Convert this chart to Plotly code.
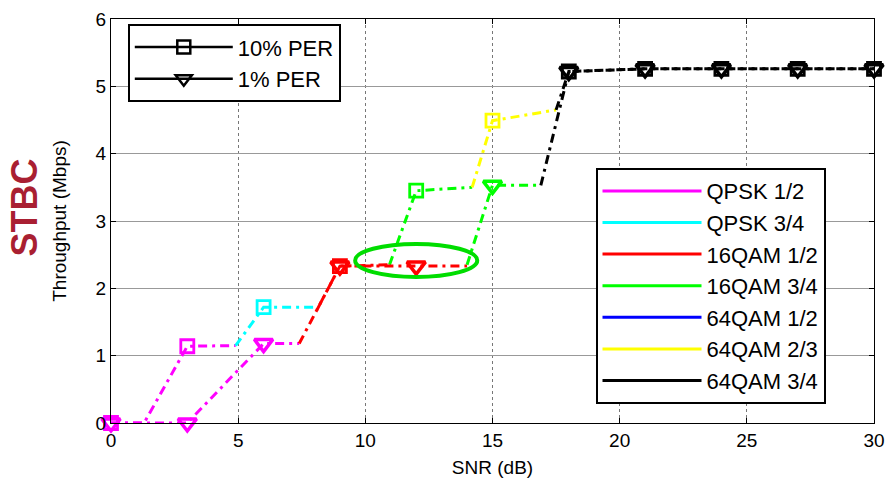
import plotly.graph_objects as go

# ---------------- data ----------------
mods = ['QPSK 1/2', 'QPSK 3/4', '16QAM 1/2', '16QAM 3/4', '64QAM 1/2', '64QAM 2/3', '64QAM 3/4']
mod_colors = ['#ff00ff', '#00ffff', '#ff0000', '#00ff00', '#0000ff', '#ffff00', '#000000']

# marker points (every 3 dB)
snr_marks = [0, 3, 6, 9, 12, 15, 18, 21, 24, 27, 30]
thr_10 = [0, 1.14, 1.72, 2.33, 3.45, 4.49, 5.22, 5.26, 5.26, 5.26, 5.26]
thr_1 = [0, 0, 1.18, 2.33, 2.33, 3.53, 5.22, 5.26, 5.26, 5.26, 5.26]
mod_10 = ['QPSK 1/2', 'QPSK 1/2', 'QPSK 3/4', '16QAM 1/2', '16QAM 3/4', '64QAM 2/3',
          '64QAM 3/4', '64QAM 3/4', '64QAM 3/4', '64QAM 3/4', '64QAM 3/4']
mod_1 = ['QPSK 1/2', 'QPSK 1/2', 'QPSK 1/2', '16QAM 1/2', '16QAM 1/2', '16QAM 3/4',
         '64QAM 3/4', '64QAM 3/4', '64QAM 3/4', '64QAM 3/4', '64QAM 3/4']

# line pieces per modulation (10% PER)
seg10_qpsk12_x = [0, 1.3, 3, 4.9]
seg10_qpsk12_y = [0, 0, 1.14, 1.15]
seg10_qpsk34_x = [4.9, 6, 8.1]
seg10_qpsk34_y = [1.15, 1.72, 1.72]
seg10_16q12_x = [8.1, 9, 10.95]
seg10_16q12_y = [1.68, 2.33, 2.35]
seg10_16q34_x = [10.95, 12, 14.2]
seg10_16q34_y = [2.35, 3.45, 3.50]
seg10_64q23_x = [14.2, 15, 17.5]
seg10_64q23_y = [3.50, 4.49, 4.65]
seg10_64q34_x = [17.5, 18, 21, 24, 27, 30]
seg10_64q34_y = [4.65, 5.22, 5.26, 5.26, 5.26, 5.26]

# line pieces per modulation (1% PER)
seg1_qpsk12_x = [0, 3, 6, 7.4]
seg1_qpsk12_y = [0, 0, 1.18, 1.18]
seg1_16q12_x = [7.4, 9, 12, 14.0]
seg1_16q12_y = [1.18, 2.33, 2.33, 2.33]
seg1_16q34_x = [14.0, 15, 16.9]
seg1_16q34_y = [2.35, 3.53, 3.53]
seg1_64q34_x = [16.9, 18, 21, 24, 27, 30]
seg1_64q34_y = [3.53, 5.22, 5.26, 5.26, 5.26, 5.26]

segments = [
    ('QPSK 1/2', seg10_qpsk12_x, seg10_qpsk12_y),
    ('QPSK 3/4', seg10_qpsk34_x, seg10_qpsk34_y),
    ('16QAM 1/2', seg10_16q12_x, seg10_16q12_y),
    ('16QAM 3/4', seg10_16q34_x, seg10_16q34_y),
    ('64QAM 2/3', seg10_64q23_x, seg10_64q23_y),
    ('64QAM 3/4', seg10_64q34_x, seg10_64q34_y),
    ('QPSK 1/2', seg1_qpsk12_x, seg1_qpsk12_y),
    ('16QAM 1/2', seg1_16q12_x, seg1_16q12_y),
    ('16QAM 3/4', seg1_16q34_x, seg1_16q34_y),
    ('64QAM 3/4', seg1_64q34_x, seg1_64q34_y),
]

# highlighted region (ellipse)
ell_x = [9.6, 14.4]
ell_y = [2.17, 2.66]

color_of = dict(zip(mods, mod_colors))
FONT = 'Liberation Sans, Arial, sans-serif'
DASH = '9px,5px,3px,5px'

fig = go.Figure()

for name, xs, ys in segments:
    fig.add_trace(go.Scatter(x=xs, y=ys, mode='lines',
                             line=dict(color=color_of[name], width=3, dash=DASH),
                             showlegend=False, hoverinfo='skip'))

fig.add_trace(go.Scatter(x=snr_marks, y=thr_10, mode='markers', showlegend=False,
                         cliponaxis=False,
                         marker=dict(symbol='square-open', size=13,
                                     color=[color_of[m] for m in mod_10],
                                     line=dict(width=2.8))))
fig.add_trace(go.Scatter(x=snr_marks, y=thr_1, mode='markers', showlegend=False,
                         cliponaxis=False,
                         marker=dict(symbol='triangle-down-open', size=16,
                                     color=[color_of[m] for m in mod_1],
                                     line=dict(width=3.5))))

# legend 1: PER levels
fig.add_trace(go.Scatter(x=[None], y=[None], mode='lines+markers', name='10% PER',
                         line=dict(color='black', width=2.5),
                         marker=dict(symbol='square-open', size=13, color='black', line=dict(width=2.5)),
                         legend='legend'))
fig.add_trace(go.Scatter(x=[None], y=[None], mode='lines+markers', name='1% PER',
                         line=dict(color='black', width=2.5),
                         marker=dict(symbol='triangle-down-open', size=14, color='black', line=dict(width=2.5)),
                         legend='legend'))

# legend 2: modulations
for m, c in zip(mods, mod_colors):
    fig.add_trace(go.Scatter(x=[None], y=[None], mode='lines', name=m,
                             line=dict(color=c, width=3), legend='legend2'))

fig.add_shape(type='circle', xref='x', yref='y', x0=ell_x[0], x1=ell_x[1],
              y0=ell_y[0], y1=ell_y[1], line=dict(color='#00dd00', width=4))

fig.add_annotation(text='<b>STBC</b>', xref='paper', yref='paper', x=-0.113, y=0.533,
                   xanchor='center', yanchor='middle',
                   textangle=-90, showarrow=False,
                   font=dict(family=FONT, size=36, color='#a91f32'))

fig.update_layout(
    width=894, height=483,
    margin=dict(l=111, r=19, t=9, b=59),
    paper_bgcolor='white', plot_bgcolor='white',
    font=dict(family=FONT, size=19, color='black'),
    legend=dict(x=0.022, y=0.987, xanchor='left', yanchor='top',
                bordercolor='black', borderwidth=2, bgcolor='white',
                font=dict(size=22), itemwidth=98, tracegroupgap=0),
    legend2=dict(x=0.635, y=0.631, xanchor='left', yanchor='top',
                 bordercolor='black', borderwidth=2, bgcolor='white',
                 font=dict(size=22), itemwidth=99, tracegroupgap=0),
)
fig.update_xaxes(range=[0, 30], tickvals=[0, 5, 10, 15, 20, 25, 30],
                 title=dict(text='SNR (dB)', font=dict(size=19), standoff=10),
                 showline=True, linecolor='black', linewidth=1, mirror='ticks',
                 ticks='inside', ticklen=5, tickcolor='black', ticklabeloverflow='allow',
                 showgrid=True, gridcolor='#777', griddash='dot', gridwidth=1,
                 zeroline=False)
fig.update_yaxes(range=[0, 6], tickvals=[0, 1, 2, 3, 4, 5, 6],
                 title=dict(text='Throughput (Mbps)', font=dict(size=19), standoff=23),
                 showline=True, linecolor='black', linewidth=1, mirror='ticks',
                 ticks='inside', ticklen=5, tickcolor='black', ticklabeloverflow='allow',
                 showgrid=True, gridcolor='#999', gridwidth=1,
                 zeroline=False)

fig.write_html('out.html', config={'displayModeBar': False},
               post_script="document.body.style.margin='0';document.body.style.overflow='hidden';")
